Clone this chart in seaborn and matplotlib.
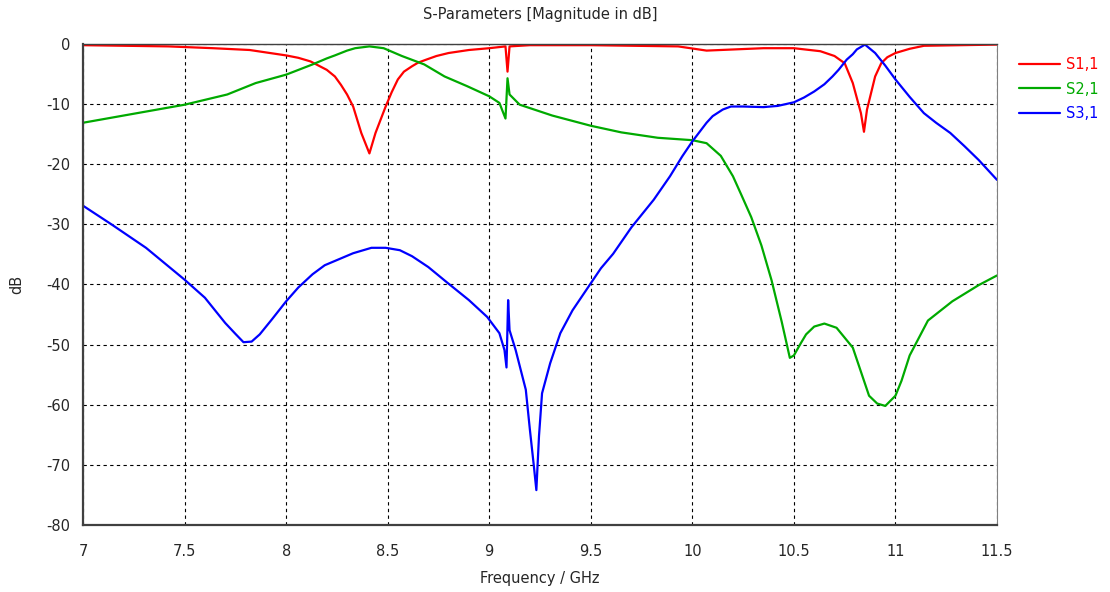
import pandas as pd
import seaborn as sns
import matplotlib.pyplot as plt

# S1,1 (red)
s11_f = [7.0, 7.42, 7.64, 7.82, 8.0, 8.06, 8.12, 8.2, 8.24, 8.27, 8.3, 8.33, 8.37, 8.41, 8.44, 8.49,
         8.52, 8.55, 8.58, 8.62, 8.65, 8.69, 8.74, 8.8, 8.9, 9.0, 9.08, 9.09, 9.1, 9.2, 9.5, 9.93,
         10.07, 10.21, 10.35, 10.5, 10.63, 10.7, 10.75, 10.79, 10.83, 10.845, 10.86, 10.9, 10.93,
         10.96, 11.0, 11.07, 11.14, 11.5]
s11_db = [-0.2, -0.4, -0.7, -1.0, -1.9, -2.3, -2.9, -4.3, -5.4, -6.8, -8.4, -10.4, -14.8, -18.2, -14.8, -10.4,
          -8.0, -5.9, -4.6, -3.7, -3.1, -2.6, -2.0, -1.5, -1.0, -0.7, -0.4, -4.6, -0.4, -0.2, -0.2, -0.4,
          -1.1, -0.9, -0.7, -0.7, -1.2, -2.0, -3.2, -6.5, -11.5, -14.6, -10.9, -5.4, -3.2,
          -2.2, -1.5, -0.8, -0.3, -0.1]

# S2,1 (green)
s21_f = [7.0, 7.5, 7.71, 7.85, 8.0, 8.13, 8.2, 8.24, 8.3, 8.34, 8.41, 8.48, 8.57, 8.68, 8.78, 8.89,
         9.0, 9.05, 9.08, 9.09, 9.1, 9.15, 9.31, 9.5, 9.65, 9.83, 10.0, 10.07, 10.14, 10.2, 10.24,
         10.29, 10.34, 10.39, 10.44, 10.48, 10.5, 10.53, 10.56, 10.6, 10.65, 10.71, 10.79, 10.83,
         10.87, 10.91, 10.95, 11.0, 11.03, 11.07, 11.16, 11.28, 11.41, 11.5]
s21_db = [-13.1, -10.1, -8.4, -6.5, -5.1, -3.4, -2.4, -1.9, -1.1, -0.7, -0.4, -0.7, -2.0, -3.4, -5.4, -7.0,
          -8.7, -9.8, -12.4, -5.7, -8.4, -10.1, -11.9, -13.6, -14.7, -15.6, -16.0, -16.5, -18.6, -22.0, -25.0,
          -28.8, -33.5, -39.3, -46.2, -52.2, -51.8, -50.0, -48.3, -47.0, -46.5, -47.2, -50.5, -54.5,
          -58.5, -59.8, -60.2, -58.5, -56.0, -51.8, -46.0, -42.8, -40.1, -38.5]

# S3,1 (blue)
s31_f = [7.0, 7.14, 7.31, 7.5, 7.6, 7.7, 7.75, 7.79, 7.83, 7.87, 7.93, 8.0, 8.06, 8.13, 8.19, 8.26,
         8.33, 8.42, 8.49, 8.56, 8.62, 8.7, 8.79, 8.9, 8.99, 9.05, 9.075, 9.085, 9.093, 9.1, 9.13,
         9.18, 9.2, 9.22, 9.232, 9.245, 9.26, 9.3, 9.35, 9.41, 9.5, 9.55, 9.61, 9.7, 9.81, 9.89,
         9.95, 10.0, 10.07, 10.1, 10.15, 10.19, 10.25, 10.35, 10.42, 10.5, 10.55, 10.6, 10.65,
         10.69, 10.72, 10.76, 10.79, 10.81, 10.85, 10.9, 10.95, 11.0, 11.07, 11.14, 11.2, 11.27,
         11.34, 11.41, 11.5]
s31_db = [-26.9, -30.0, -33.9, -39.2, -42.2, -46.4, -48.2, -49.6, -49.5, -48.3, -45.8, -42.8, -40.5, -38.3, -36.8, -35.8,
          -34.8, -33.9, -33.9, -34.3, -35.3, -37.1, -39.6, -42.6, -45.4, -48.1, -50.9, -53.8, -42.6, -47.6, -50.9,
          -57.5, -64.1, -70.3, -74.2, -65.2, -58.1, -53.1, -48.1, -44.3, -39.8, -37.3, -34.9, -30.5, -25.9, -22.0,
          -18.7, -16.2, -13.1, -12.0, -10.9, -10.4, -10.4, -10.5, -10.3, -9.7, -8.9, -7.9, -6.7,
          -5.4, -4.3, -2.6, -1.7, -0.9, -0.1, -1.5, -3.6, -5.9, -8.8, -11.5, -13.1, -14.8,
          -17.0, -19.3, -22.6]

labels = ["S1,1", "S2,1", "S3,1"]
colors = ["#ff0000", "#00aa00", "#0000ff"]
x_ticks = [7, 7.5, 8, 8.5, 9, 9.5, 10, 10.5, 11, 11.5]
x_ticklabels = ["7", "7.5", "8", "8.5", "9", "9.5", "10", "10.5", "11", "11.5"]
y_ticks = [0, -10, -20, -30, -40, -50, -60, -70, -80]

df = pd.concat([
    pd.DataFrame({"f": s11_f, "db": s11_db, "param": labels[0]}),
    pd.DataFrame({"f": s21_f, "db": s21_db, "param": labels[1]}),
    pd.DataFrame({"f": s31_f, "db": s31_db, "param": labels[2]}),
])

sns.set_style("white")
plt.rcParams["font.family"] = ["DejaVu Sans"]
plt.rcParams["axes.unicode_minus"] = False

fig = plt.figure(figsize=(11.1, 5.92), dpi=100)
ax = fig.add_axes([0.0748, 0.1132, 0.8234, 0.8125])

sns.lineplot(data=df, x="f", y="db", hue="param", palette=dict(zip(labels, colors)),
             estimator=None, sort=False, linewidth=1.6, ax=ax)

ax.set_xlim(7, 11.5)
ax.set_ylim(-80, 0)
ax.set_xticks(x_ticks)
ax.set_xticklabels(x_ticklabels)
ax.set_yticks(y_ticks)
ax.grid(True, color="black", linestyle=(0, (3, 3)), linewidth=0.8)
ax.tick_params(axis="both", length=0, labelsize=10.5)
ax.tick_params(axis="x", pad=14)
ax.tick_params(axis="y", pad=9)

for side in ["left", "bottom"]:
    ax.spines[side].set_color("#404040")
    ax.spines[side].set_linewidth(1.6)
ax.spines["top"].set_color("#404040")
ax.spines["top"].set_linewidth(1.0)
ax.spines["right"].set_color("#808080")
ax.spines["right"].set_linewidth(0.8)

ax.set_title("S-Parameters [Magnitude in dB]", fontsize=10.5, pad=18)
ax.set_xlabel("Frequency / GHz", fontsize=10.5, labelpad=8)
ax.set_ylabel("dB", fontsize=10.5, labelpad=16)

ax.legend(loc="upper left", bbox_to_anchor=(1.01, 1.0), frameon=False, title=None,
          labelcolor="linecolor", handlelength=2.8, handletextpad=0.4, fontsize=10.5,
          labelspacing=0.65)

fig.savefig("out.png", dpi=100)
